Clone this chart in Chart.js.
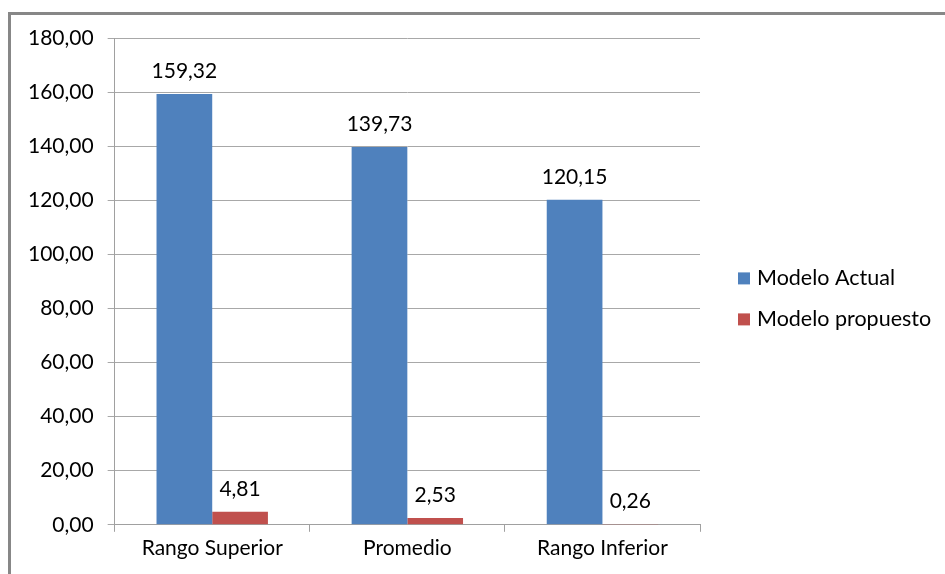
<!DOCTYPE html>
<html>
<head>
<meta charset="utf-8">
<script src="https://cdn.jsdelivr.net/npm/chart.js@4/dist/chart.umd.min.js"></script>
<style>
	body { margin: 0; background: #fff; }
	#marco {
		position: absolute; left: 8px; top: 12px; width: 960px; height: 600px;
		border-left: 3px solid #878787; border-top: 3px solid #878787;
	}
	#contenedor { position: absolute; left: 0; top: 0; width: 945px; height: 574px; }
</style>
</head>
<body>
<div id="marco"></div>
<div id="contenedor"><canvas id="grafico"></canvas></div>
<script>
const categorias = ["Rango Superior", "Promedio", "Rango Inferior"];
const modeloActual = [159.32, 139.73, 120.15];
const modeloPropuesto = [4.81, 2.53, 0.26];

const fuente = { family: "Lato", size: 21 };

function formato(v) {
	return Number(v).toFixed(2).replace(".", ",");
}

// etiquetas con el valor encima de cada barra
const etiquetas = {
	id: "etiquetas",
	afterDatasetsDraw(chart) {
		const ctx = chart.ctx;
		ctx.save();
		ctx.font = `${fuente.size}px ${fuente.family}`;
		ctx.fillStyle = "#000";
		ctx.textAlign = "center";
		ctx.textBaseline = "bottom";
		chart.data.datasets.forEach((ds, i) => {
			chart.getDatasetMeta(i).data.forEach((barra, j) => {
				ctx.fillText(formato(ds.data[j]), barra.x, barra.y - 12);
			});
		});
		ctx.restore();
	},
};

// leyenda a la derecha del área de trazado
const leyenda = {
	id: "leyenda",
	afterDraw(chart) {
		const ctx = chart.ctx;
		const area = chart.chartArea;
		const medio = (area.top + area.bottom) / 2;
		ctx.save();
		ctx.font = `21.5px ${fuente.family}`;
		ctx.textAlign = "left";
		ctx.textBaseline = "middle";
		chart.data.datasets.forEach((ds, i) => {
			const y = medio - 3 + i * 41;
			const x = area.right + 38;
			ctx.fillStyle = ds.backgroundColor;
			ctx.fillRect(x, y - 6, 12, 12);
			ctx.fillStyle = "#000";
			ctx.fillText(ds.label, x + 19, y);
		});
		ctx.restore();
	},
};

new Chart(document.querySelector("#grafico"), {
	type: "bar",
	data: {
		labels: categorias,
		datasets: [
			{
				label: "Modelo Actual",
				data: modeloActual,
				backgroundColor: "#4f81bd",
				categoryPercentage: 0.571,
				barPercentage: 1,
			},
			{
				label: "Modelo propuesto",
				data: modeloPropuesto,
				backgroundColor: "#c0504d",
				categoryPercentage: 0.571,
				barPercentage: 1,
			},
		],
	},
	options: {
		responsive: true,
		maintainAspectRatio: false,
		animation: false,
		layout: { padding: { left: 14, top: 38, right: 245, bottom: 9 } },
		plugins: {
			legend: { display: false },
			tooltip: { enabled: false },
		},
		scales: {
			x: {
				offset: true,
				grid: {
					offset: true,
					drawOnChartArea: false,
					drawTicks: true,
					tickLength: 7,
					color: "#a0a0a0",
				},
				border: { color: "#a0a0a0" },
				ticks: { font: fuente, color: "#000", padding: 4 },
			},
			y: {
				min: 0,
				max: 180,
				ticks: {
					stepSize: 20,
					font: fuente,
					color: "#000",
					padding: 14,
					callback: (v) => formato(v),
				},
				grid: { color: "#a8a8a8", tickLength: 7 },
				border: { color: "#a0a0a0" },
			},
		},
	},
	plugins: [etiquetas, leyenda],
});
</script>
</body>
</html>
